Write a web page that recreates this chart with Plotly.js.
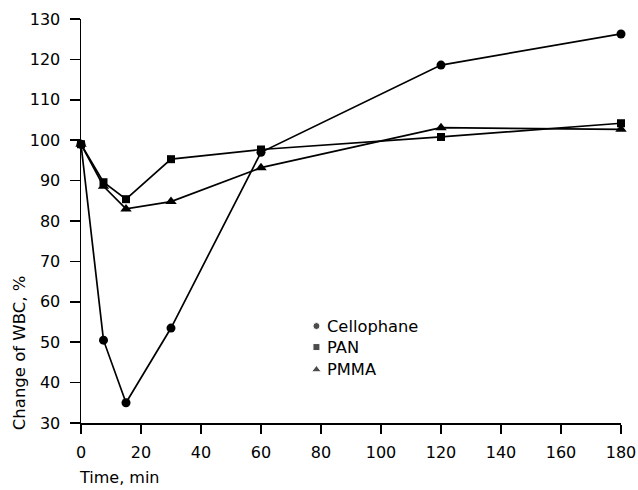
<!DOCTYPE html>
<html><head><meta charset="utf-8">
<script src="https://cdn.plot.ly/plotly-3.0.1.min.js"></script>
<style>html,body{margin:0;padding:0;background:#fff}</style>
</head><body>
<div id="chart" style="width:638px;height:490px"></div>
<script>
var times = [0, 7.5, 15, 30, 60, 120, 180];
var cellophane = [99, 50.5, 35, 53.5, 97, 118.6, 126.3];
var pan = [99, 89.6, 85.4, 95.3, 97.7, 100.8, 104.2];
var pmma = [99, 88.6, 83, 84.8, 93.2, 103.1, 102.7];
var xTicks = [0, 20, 40, 60, 80, 100, 120, 140, 160, 180];
var yTicks = [30, 40, 50, 60, 70, 80, 90, 100, 110, 120, 130];
var seriesNames = ['Cellophane', 'PAN', 'PMMA'];
var symbols = ['circle', 'square', 'triangle-up'];

var FONT = '"DejaVu Sans", sans-serif';
var series = [cellophane, pan, pmma];
var markerSizes = [9, 8, 10];
var traces = [];
series.forEach(function(s, i){
  traces.push({x: times, y: s, mode: 'lines+markers', showlegend: false,
    line: {color: '#000', width: 1.7},
    marker: {symbol: symbols[i], size: markerSizes[i], color: '#000'},
    cliponaxis: false});
});
// legend keys drawn on an overlay 0..1 axis pair
var legendX = 0.436, legendY = [0.240, 0.188, 0.132];
traces.push({x: [legendX, legendX, legendX], y: legendY, xaxis: 'x2', yaxis: 'y2',
  mode: 'markers', showlegend: false,
  marker: {symbol: symbols, size: [7, 7, 8.5], color: '#000'}});

var annotations = [
  {text: 'Time, min', xref: 'paper', yref: 'paper', x: -0.007, y: -0.136,
   xanchor: 'left', yanchor: 'middle', showarrow: false, font: {family: FONT, size: 16}},
  {text: 'Change of WBC, %', xref: 'paper', yref: 'paper', x: -0.115, y: 0.175,
   xanchor: 'center', yanchor: 'middle', textangle: -90, showarrow: false,
   font: {family: FONT, size: 16.5}}
];
seriesNames.forEach(function(n, i){
  annotations.push({text: n, xref: 'paper', yref: 'paper', x: 0.452, y: legendY[i],
    xanchor: 'left', yanchor: 'middle', showarrow: false, font: {family: FONT, size: 16.3}});
});

var layout = {
  width: 638, height: 490,
  margin: {l: 81, r: 17, t: 19, b: 67},
  paper_bgcolor: '#fff', plot_bgcolor: '#fff',
  font: {family: FONT, size: 16, color: '#000'},
  showlegend: false,
  xaxis: {range: [0, 180], tickvals: xTicks, ticktext: xTicks.map(String),
    showgrid: false, zeroline: false, showline: true, linecolor: '#000', linewidth: 1.5,
    ticks: 'outside', ticklen: 9, tickwidth: 1.5, tickcolor: '#000',
    ticklabelstandoff: 5,
    tickfont: {family: FONT, size: 16}, fixedrange: true},
  yaxis: {range: [30, 130], tickvals: yTicks, ticktext: yTicks.map(String),
    showgrid: false, zeroline: false, showline: true, linecolor: '#000', linewidth: 1.5,
    ticks: 'outside', ticklen: 10, tickwidth: 1.5, tickcolor: '#000',
    ticklabelstandoff: 6,
    tickfont: {family: FONT, size: 16}, fixedrange: true},
  xaxis2: {overlaying: 'x', range: [0, 1], visible: false, fixedrange: true},
  yaxis2: {overlaying: 'y', range: [0, 1], visible: false, fixedrange: true},
  annotations: annotations
};
Plotly.newPlot('chart', traces, layout, {displayModeBar: false, staticPlot: true});
</script>
</body></html>
